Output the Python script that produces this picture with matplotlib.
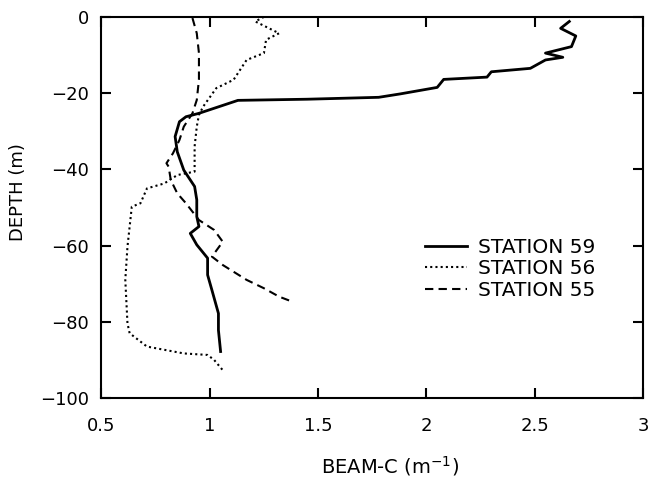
import matplotlib
matplotlib.use("Agg")
import matplotlib.pyplot as plt

# beam attenuation profiles (beam-c in 1/m against depth in m)
st59_beam = [2.66, 2.62, 2.69, 2.67, 2.55, 2.63, 2.55, 2.48, 2.30, 2.28, 2.08, 2.05, 1.88,
             1.78, 1.45, 1.13, 0.95, 0.89, 0.86, 0.84, 0.85, 0.88, 0.93, 0.94, 0.94, 0.95,
             0.91, 0.94, 0.99, 0.99, 1.01, 1.04, 1.04, 1.05]
st59_depth = [-1.2, -3.0, -5.0, -7.8, -9.5, -10.6, -11.3, -13.5, -14.4, -15.8, -16.4, -18.5, -20.2,
              -21.1, -21.6, -21.9, -25.3, -26.2, -27.5, -31.4, -35.4, -40.2, -44.5, -48.0, -52.4,
              -55.0, -56.8, -59.8, -63.3, -67.7, -71.7, -77.8, -82.2, -87.8]

st56_beam = [1.25, 1.21, 1.32, 1.26, 1.25, 1.17, 1.11, 1.03, 0.97, 0.95, 0.94, 0.93, 0.93,
             0.85, 0.79, 0.71, 0.68, 0.64, 0.62, 0.61, 0.62, 0.63, 0.71, 0.88, 0.99, 1.02, 1.06]
st56_depth = [0.0, -1.2, -4.3, -6.0, -9.5, -11.3, -16.5, -18.7, -23.5, -25.7, -28.8, -34.0, -40.6,
              -41.5, -43.7, -45.0, -48.9, -49.8, -60.3, -69.0, -80.4, -83.0, -86.5, -88.3, -88.7,
              -90.0, -92.7]

st55_beam = [0.92, 0.94, 0.95, 0.95, 0.94, 0.92, 0.88, 0.86, 0.83, 0.80, 0.81, 0.82, 0.85,
             0.89, 0.95, 1.02, 1.06, 1.01, 1.06, 1.17, 1.25, 1.32, 1.38]
st55_depth = [-0.3, -4.3, -9.5, -16.5, -21.8, -25.3, -28.8, -32.3, -35.8, -38.4, -39.3, -42.8, -46.3,
              -48.9, -53.3, -55.9, -59.0, -62.9, -65.1, -69.0, -71.2, -73.4, -74.7]

station_labels = ["STATION 59", "STATION 56", "STATION 55"]

x_ticks = [0.5, 1, 1.5, 2, 2.5, 3]
x_ticklabels = ["0.5", "1", "1.5", "2", "2.5", "3"]
y_ticks = [0, -20, -40, -60, -80, -100]
y_ticklabels = ["0", "\u221220", "\u221240", "\u221260", "\u221280", "\u2212100"]

plt.rcParams["font.family"] = ["DejaVu Sans"]

fig = plt.figure(figsize=(6.48, 4.8), dpi=100)
ax = fig.add_axes([0.1566, 0.1708, 0.8356, 0.794])

ax.plot(st59_beam, st59_depth, color="black", lw=2.0, ls="-", label=station_labels[0])
ax.plot(st56_beam, st56_depth, color="black", lw=1.5, ls=(0, (1, 1.5)), label=station_labels[1])
ax.plot(st55_beam, st55_depth, color="black", lw=1.5, ls=(0, (4, 2.5)), label=station_labels[2])

ax.set_xlim(0.5, 3)
ax.set_ylim(-100, 0)
ax.set_xticks(x_ticks, x_ticklabels)
ax.set_yticks(y_ticks, y_ticklabels)

for side in ax.spines.values():
    side.set_linewidth(1.5)
ax.tick_params(direction="in", length=7, width=1.5, top=True, right=True, labelsize=13)
ax.tick_params(axis="x", pad=14)
ax.tick_params(axis="y", pad=9)

ax.set_xlabel("BEAM-C (m$^{-1}$)", fontsize=14, va="center")
ax.xaxis.set_label_coords(0.533, -0.178)
ax.set_ylabel("DEPTH (m)", fontsize=13, va="center")
ax.yaxis.set_label_coords(-0.154, 0.541)

ax.legend(loc="center left", bbox_to_anchor=(0.597, 0.339), frameon=False, fontsize=14.5,
          handlelength=2.1, handletextpad=0.55, labelspacing=0.12, borderpad=0,
          borderaxespad=0)

fig.savefig("out.png", dpi=100)
